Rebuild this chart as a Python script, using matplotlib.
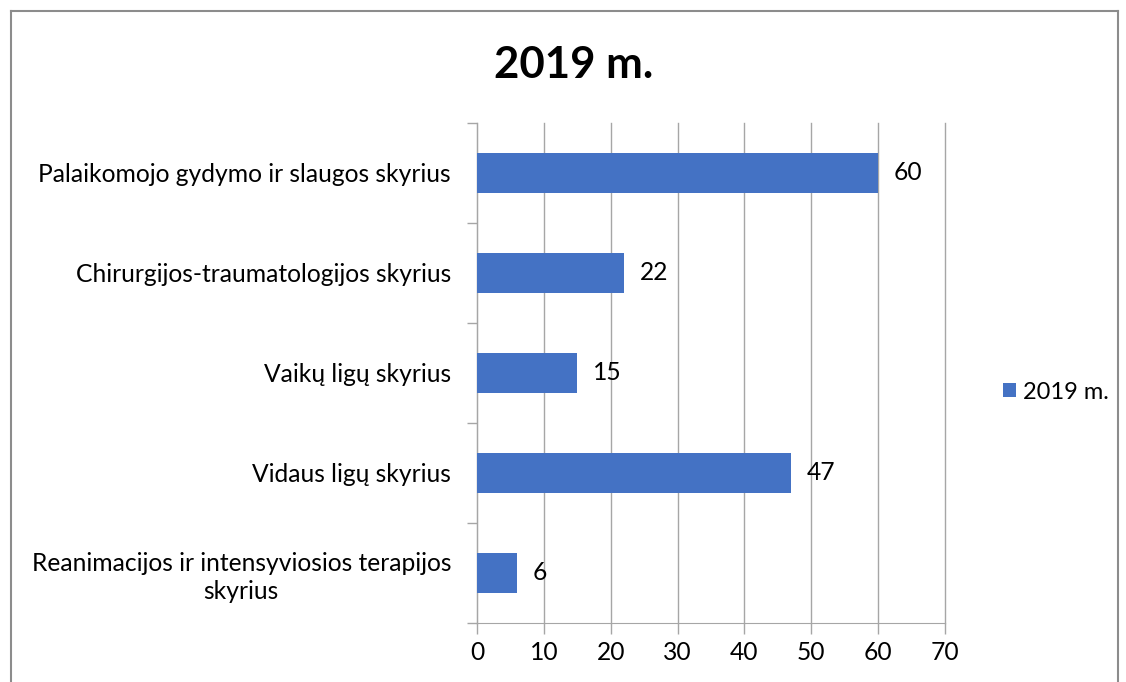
import matplotlib
matplotlib.use("Agg")
import matplotlib.pyplot as plt
import matplotlib.transforms as mtransforms
from matplotlib.lines import Line2D
from matplotlib.patches import Patch

categories = [
    "Palaikomojo gydymo ir slaugos skyrius",
    "Chirurgijos-traumatologijos skyrius",
    "Vaikų ligų skyrius",
    "Vidaus ligų skyrius",
    "Reanimacijos ir intensyviosios terapijos\nskyrius",
]
values = [60, 22, 15, 47, 6]
series_name = "2019 m."
title = "2019 m."
xticks = [0, 10, 20, 30, 40, 50, 60, 70]

plt.rcParams['font.family'] = ['Lato', 'DejaVu Sans']
bar_color = "#4472C4"
grid_color = "#A6A6A6"
FS = 17.7

fig = plt.figure(figsize=(11.26, 6.82), dpi=100)
W, H = 1126, 682
ax = fig.add_axes([477 / W, 1 - 623 / H, (945 - 477) / W, (623 - 123) / H])

n = len(categories)
ypos = list(range(n))
ax.barh(ypos, values, height=0.4, color=bar_color, zorder=3, label=series_name)
ax.set_ylim(n - 0.5, -0.5)
ax.set_xlim(0, 70)
ax.set_xticks(xticks)
ax.set_xticklabels([str(t) for t in xticks], fontsize=FS)
ax.set_yticks(ypos)
ax.set_yticklabels(categories, fontsize=FS, linespacing=1.25)
ax.tick_params(axis='y', length=0, pad=0)
ax.set_yticks([i - 0.5 for i in range(n + 1)], minor=True)
ax.tick_params(axis='y', which='minor', length=7, color=grid_color, width=1)
ax.tick_params(axis='x', length=8, color=grid_color, width=1, pad=5)

ax.xaxis.grid(True, color=grid_color, linewidth=1, zorder=0)
for gl in ax.get_xgridlines():
    gl.set_clip_on(False)
ax.set_axisbelow(True)
for s in ['top', 'right']:
    ax.spines[s].set_visible(False)
ax.spines['left'].set_color(grid_color)
ax.spines['bottom'].set_color(grid_color)

for y, v in zip(ypos, values):
    ax.annotate(str(v), (v, y), xytext=(11.5, 0), textcoords='offset points',
                va='center', ha='left', fontsize=FS, color='black')

fig.draw_without_rendering()
renderer = fig.canvas.get_renderer()
for lbl in ax.get_yticklabels():
    lbl.set_horizontalalignment('center')
    bb = lbl.get_window_extent(renderer)
    w = bb.width
    lbl.set_transform(ax.get_yaxis_transform() + mtransforms.ScaledTranslation(-(w / 2 + 26) / 100, 0, fig.dpi_scale_trans))

fig.text(574 / W, 1 - 65 / H, title, ha='center', va='center', fontsize=31.5, fontweight='bold')

handles = [Patch(facecolor=bar_color, label=series_name)]
fig.legend(handles=handles, loc='center left', bbox_to_anchor=(1003 / W, 1 - 392 / H),
           frameon=False, fontsize=17, handlelength=0.55, handleheight=0.55, handletextpad=0.3,
           borderpad=0, borderaxespad=0)

bc = "#8C8C8C"
fig.add_artist(Line2D([10.5 / W, 10.5 / W], [0, 1 - 11 / H], color=bc, linewidth=1.5, transform=fig.transFigure))
fig.add_artist(Line2D([10.5 / W, 1118 / W], [1 - 11 / H, 1 - 11 / H], color=bc, linewidth=1.5, transform=fig.transFigure))
fig.add_artist(Line2D([1118 / W, 1118 / W], [0, 1 - 11 / H], color=bc, linewidth=1.5, transform=fig.transFigure))

fig.savefig("out.png", dpi=100)
